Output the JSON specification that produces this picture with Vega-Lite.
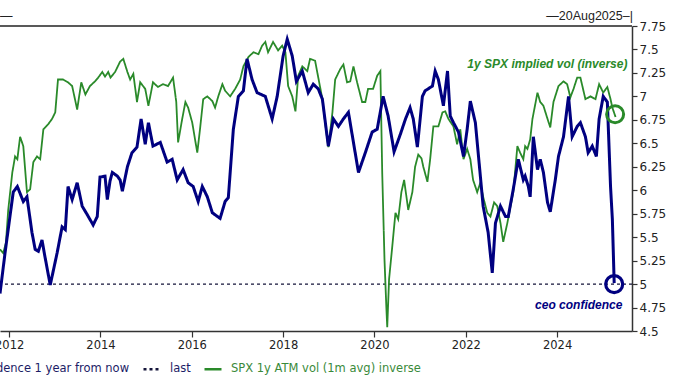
{
  "$schema": "https://vega.github.io/schema/vega-lite/v6.json",
  "width": 632,
  "height": 305,
  "autosize": {"type": "none"},
  "padding": {"left": 0, "top": 26, "right": 48, "bottom": 52},
  "background": "white",
  "config": {
    "view": {"stroke": null},
    "font": "DejaVu Sans",
    "axis": {"grid": false, "domainColor": "#333333", "domainWidth": 1.5, "tickColor": "#333333", "tickWidth": 1.2, "labelColor": "#222222", "labelFont": "DejaVu Sans", "title": null, "labelOverlap": false}
  },
  "datasets": {
    "ceo": [
      {"year": 2011.80, "value": 4.90}, {"year": 2011.91, "value": 5.33}, {"year": 2012.09, "value": 5.98}, {"year": 2012.18, "value": 6.04},
      {"year": 2012.31, "value": 5.88}, {"year": 2012.39, "value": 5.93}, {"year": 2012.50, "value": 5.55}, {"year": 2012.57, "value": 5.37},
      {"year": 2012.64, "value": 5.35}, {"year": 2012.72, "value": 5.47}, {"year": 2012.77, "value": 5.33}, {"year": 2012.90, "value": 4.99},
      {"year": 2013.05, "value": 5.33}, {"year": 2013.16, "value": 5.61}, {"year": 2013.23, "value": 5.58}, {"year": 2013.29, "value": 6.04},
      {"year": 2013.38, "value": 5.90}, {"year": 2013.49, "value": 6.08}, {"year": 2013.60, "value": 5.83}, {"year": 2013.71, "value": 5.74},
      {"year": 2013.84, "value": 5.63}, {"year": 2013.93, "value": 5.72}, {"year": 2013.99, "value": 6.14}, {"year": 2014.10, "value": 6.15},
      {"year": 2014.15, "value": 5.90}, {"year": 2014.21, "value": 6.10}, {"year": 2014.26, "value": 6.19}, {"year": 2014.37, "value": 6.15},
      {"year": 2014.43, "value": 6.11}, {"year": 2014.48, "value": 5.99}, {"year": 2014.59, "value": 6.25}, {"year": 2014.69, "value": 6.40},
      {"year": 2014.80, "value": 6.46}, {"year": 2014.89, "value": 6.76}, {"year": 2014.98, "value": 6.49}, {"year": 2015.05, "value": 6.72},
      {"year": 2015.15, "value": 6.47}, {"year": 2015.31, "value": 6.51}, {"year": 2015.46, "value": 6.30}, {"year": 2015.57, "value": 6.33},
      {"year": 2015.68, "value": 6.11}, {"year": 2015.81, "value": 6.22}, {"year": 2015.92, "value": 6.08}, {"year": 2016.03, "value": 6.04},
      {"year": 2016.14, "value": 5.88}, {"year": 2016.23, "value": 6.04}, {"year": 2016.34, "value": 5.93}, {"year": 2016.45, "value": 5.76},
      {"year": 2016.62, "value": 5.70}, {"year": 2016.73, "value": 5.88}, {"year": 2016.80, "value": 5.92}, {"year": 2016.91, "value": 6.65},
      {"year": 2017.02, "value": 7.00}, {"year": 2017.13, "value": 7.06}, {"year": 2017.21, "value": 7.40}, {"year": 2017.32, "value": 7.18},
      {"year": 2017.43, "value": 7.04}, {"year": 2017.61, "value": 7.00}, {"year": 2017.76, "value": 6.76}, {"year": 2017.87, "value": 7.00},
      {"year": 2018.00, "value": 7.43}, {"year": 2018.09, "value": 7.61}, {"year": 2018.20, "value": 7.43}, {"year": 2018.29, "value": 7.16},
      {"year": 2018.42, "value": 7.27}, {"year": 2018.55, "value": 7.04}, {"year": 2018.66, "value": 7.13}, {"year": 2018.77, "value": 7.08},
      {"year": 2018.86, "value": 6.97}, {"year": 2018.99, "value": 6.47}, {"year": 2019.10, "value": 6.76}, {"year": 2019.21, "value": 6.68},
      {"year": 2019.32, "value": 6.76}, {"year": 2019.43, "value": 6.83}, {"year": 2019.54, "value": 6.51}, {"year": 2019.65, "value": 6.19},
      {"year": 2019.80, "value": 6.40}, {"year": 2019.95, "value": 6.62}, {"year": 2020.06, "value": 6.65}, {"year": 2020.19, "value": 7.00},
      {"year": 2020.30, "value": 6.79}, {"year": 2020.43, "value": 6.41}, {"year": 2020.57, "value": 6.60}, {"year": 2020.68, "value": 6.76},
      {"year": 2020.78, "value": 6.88}, {"year": 2020.85, "value": 6.76}, {"year": 2020.94, "value": 6.46}, {"year": 2021.05, "value": 7.00},
      {"year": 2021.11, "value": 7.06}, {"year": 2021.27, "value": 7.11}, {"year": 2021.33, "value": 7.27}, {"year": 2021.40, "value": 7.18},
      {"year": 2021.51, "value": 6.90}, {"year": 2021.60, "value": 7.27}, {"year": 2021.66, "value": 6.79}, {"year": 2021.73, "value": 6.72},
      {"year": 2021.84, "value": 6.62}, {"year": 2021.95, "value": 6.36}, {"year": 2022.03, "value": 6.65}, {"year": 2022.10, "value": 6.95},
      {"year": 2022.21, "value": 6.72}, {"year": 2022.30, "value": 6.25}, {"year": 2022.38, "value": 5.83}, {"year": 2022.49, "value": 5.55},
      {"year": 2022.58, "value": 5.12}, {"year": 2022.65, "value": 5.65}, {"year": 2022.76, "value": 5.83}, {"year": 2022.87, "value": 5.72},
      {"year": 2022.93, "value": 5.72}, {"year": 2023.04, "value": 6.01}, {"year": 2023.15, "value": 6.33}, {"year": 2023.26, "value": 6.11},
      {"year": 2023.30, "value": 6.15}, {"year": 2023.37, "value": 6.04}, {"year": 2023.41, "value": 5.93}, {"year": 2023.48, "value": 6.57},
      {"year": 2023.57, "value": 6.22}, {"year": 2023.63, "value": 6.33}, {"year": 2023.70, "value": 6.19}, {"year": 2023.79, "value": 5.87},
      {"year": 2023.85, "value": 5.77}, {"year": 2023.96, "value": 6.11}, {"year": 2024.03, "value": 6.36}, {"year": 2024.14, "value": 6.57},
      {"year": 2024.25, "value": 7.00}, {"year": 2024.33, "value": 6.57}, {"year": 2024.44, "value": 6.68}, {"year": 2024.51, "value": 6.72},
      {"year": 2024.62, "value": 6.57}, {"year": 2024.68, "value": 6.40}, {"year": 2024.77, "value": 6.47}, {"year": 2024.86, "value": 6.36},
      {"year": 2024.92, "value": 6.76}, {"year": 2025.01, "value": 7.00}, {"year": 2025.10, "value": 6.94}, {"year": 2025.17, "value": 6.04},
      {"year": 2025.21, "value": 5.69}, {"year": 2025.25, "value": 5.01}
    ],
    "vol": [
      {"year": 2011.80, "value": 5.37}, {"year": 2011.87, "value": 5.33}, {"year": 2011.93, "value": 5.44}, {"year": 2011.98, "value": 5.79},
      {"year": 2012.07, "value": 6.19}, {"year": 2012.13, "value": 6.36}, {"year": 2012.18, "value": 6.33}, {"year": 2012.24, "value": 6.57},
      {"year": 2012.31, "value": 6.47}, {"year": 2012.39, "value": 5.98}, {"year": 2012.46, "value": 6.01}, {"year": 2012.53, "value": 6.30},
      {"year": 2012.61, "value": 6.36}, {"year": 2012.68, "value": 6.33}, {"year": 2012.75, "value": 6.65}, {"year": 2012.85, "value": 6.70},
      {"year": 2012.94, "value": 6.76}, {"year": 2013.01, "value": 6.83}, {"year": 2013.07, "value": 7.18}, {"year": 2013.18, "value": 7.18},
      {"year": 2013.29, "value": 7.15}, {"year": 2013.38, "value": 7.11}, {"year": 2013.49, "value": 6.86}, {"year": 2013.58, "value": 7.15},
      {"year": 2013.67, "value": 7.02}, {"year": 2013.77, "value": 7.11}, {"year": 2013.88, "value": 7.16}, {"year": 2013.95, "value": 7.20},
      {"year": 2014.04, "value": 7.26}, {"year": 2014.10, "value": 7.21}, {"year": 2014.17, "value": 7.26}, {"year": 2014.22, "value": 7.20},
      {"year": 2014.32, "value": 7.26}, {"year": 2014.43, "value": 7.37}, {"year": 2014.50, "value": 7.40}, {"year": 2014.59, "value": 7.26},
      {"year": 2014.65, "value": 7.18}, {"year": 2014.72, "value": 7.24}, {"year": 2014.80, "value": 6.94}, {"year": 2014.87, "value": 7.15},
      {"year": 2014.98, "value": 7.08}, {"year": 2015.05, "value": 6.90}, {"year": 2015.15, "value": 7.15}, {"year": 2015.26, "value": 7.10},
      {"year": 2015.37, "value": 7.13}, {"year": 2015.48, "value": 7.11}, {"year": 2015.59, "value": 7.20}, {"year": 2015.66, "value": 6.94},
      {"year": 2015.70, "value": 6.51}, {"year": 2015.79, "value": 6.76}, {"year": 2015.86, "value": 6.94}, {"year": 2015.92, "value": 6.88},
      {"year": 2016.01, "value": 6.72}, {"year": 2016.12, "value": 6.40}, {"year": 2016.18, "value": 6.65}, {"year": 2016.25, "value": 6.97},
      {"year": 2016.34, "value": 7.00}, {"year": 2016.45, "value": 6.95}, {"year": 2016.51, "value": 6.88}, {"year": 2016.58, "value": 7.00},
      {"year": 2016.67, "value": 7.13}, {"year": 2016.73, "value": 7.06}, {"year": 2016.84, "value": 7.00}, {"year": 2016.95, "value": 7.08},
      {"year": 2017.06, "value": 7.18}, {"year": 2017.13, "value": 7.32}, {"year": 2017.24, "value": 7.42}, {"year": 2017.35, "value": 7.47},
      {"year": 2017.46, "value": 7.45}, {"year": 2017.54, "value": 7.54}, {"year": 2017.61, "value": 7.58}, {"year": 2017.67, "value": 7.47},
      {"year": 2017.78, "value": 7.58}, {"year": 2017.89, "value": 7.49}, {"year": 2017.98, "value": 7.54}, {"year": 2018.05, "value": 7.47},
      {"year": 2018.11, "value": 7.11}, {"year": 2018.20, "value": 7.00}, {"year": 2018.27, "value": 6.84}, {"year": 2018.33, "value": 7.22},
      {"year": 2018.42, "value": 7.32}, {"year": 2018.53, "value": 7.27}, {"year": 2018.59, "value": 7.40}, {"year": 2018.70, "value": 7.38},
      {"year": 2018.77, "value": 7.20}, {"year": 2018.86, "value": 6.97}, {"year": 2018.92, "value": 6.72}, {"year": 2018.99, "value": 6.46},
      {"year": 2019.08, "value": 6.83}, {"year": 2019.14, "value": 7.18}, {"year": 2019.25, "value": 7.29}, {"year": 2019.32, "value": 7.34},
      {"year": 2019.40, "value": 7.15}, {"year": 2019.47, "value": 7.16}, {"year": 2019.54, "value": 7.32}, {"year": 2019.62, "value": 7.15},
      {"year": 2019.73, "value": 6.94}, {"year": 2019.80, "value": 6.94}, {"year": 2019.86, "value": 7.08}, {"year": 2019.97, "value": 7.08},
      {"year": 2020.06, "value": 7.22}, {"year": 2020.13, "value": 7.27}, {"year": 2020.17, "value": 6.19}, {"year": 2020.22, "value": 5.26},
      {"year": 2020.26, "value": 4.76}, {"year": 2020.28, "value": 4.54}, {"year": 2020.32, "value": 5.05}, {"year": 2020.39, "value": 5.40},
      {"year": 2020.46, "value": 5.76}, {"year": 2020.52, "value": 5.69}, {"year": 2020.59, "value": 5.98}, {"year": 2020.65, "value": 6.11},
      {"year": 2020.74, "value": 5.79}, {"year": 2020.83, "value": 5.98}, {"year": 2020.89, "value": 6.25}, {"year": 2020.96, "value": 6.38},
      {"year": 2021.03, "value": 6.34}, {"year": 2021.07, "value": 6.25}, {"year": 2021.16, "value": 6.09}, {"year": 2021.22, "value": 6.33},
      {"year": 2021.29, "value": 6.68}, {"year": 2021.40, "value": 6.68}, {"year": 2021.49, "value": 6.83}, {"year": 2021.55, "value": 6.84},
      {"year": 2021.62, "value": 6.76}, {"year": 2021.73, "value": 6.68}, {"year": 2021.81, "value": 6.49}, {"year": 2021.88, "value": 6.65},
      {"year": 2021.95, "value": 6.33}, {"year": 2022.03, "value": 6.44}, {"year": 2022.10, "value": 6.33}, {"year": 2022.16, "value": 6.11},
      {"year": 2022.25, "value": 5.98}, {"year": 2022.32, "value": 6.08}, {"year": 2022.38, "value": 5.93}, {"year": 2022.47, "value": 5.76},
      {"year": 2022.54, "value": 5.72}, {"year": 2022.62, "value": 5.87}, {"year": 2022.69, "value": 5.83}, {"year": 2022.76, "value": 5.65},
      {"year": 2022.82, "value": 5.45}, {"year": 2022.91, "value": 5.65}, {"year": 2022.98, "value": 5.83}, {"year": 2023.04, "value": 5.98},
      {"year": 2023.13, "value": 6.47}, {"year": 2023.19, "value": 6.40}, {"year": 2023.26, "value": 6.33}, {"year": 2023.30, "value": 6.47},
      {"year": 2023.35, "value": 6.44}, {"year": 2023.41, "value": 6.54}, {"year": 2023.46, "value": 6.76}, {"year": 2023.57, "value": 7.04},
      {"year": 2023.63, "value": 6.94}, {"year": 2023.70, "value": 6.90}, {"year": 2023.79, "value": 6.76}, {"year": 2023.85, "value": 6.67},
      {"year": 2023.92, "value": 6.94}, {"year": 2024.03, "value": 7.11}, {"year": 2024.14, "value": 7.16}, {"year": 2024.22, "value": 7.13},
      {"year": 2024.29, "value": 6.99}, {"year": 2024.36, "value": 7.08}, {"year": 2024.44, "value": 7.20}, {"year": 2024.51, "value": 7.20},
      {"year": 2024.62, "value": 6.97}, {"year": 2024.73, "value": 7.00}, {"year": 2024.84, "value": 6.97}, {"year": 2024.92, "value": 7.13},
      {"year": 2025.01, "value": 7.04}, {"year": 2025.10, "value": 7.10}, {"year": 2025.17, "value": 6.97}, {"year": 2025.21, "value": 6.88},
      {"year": 2025.28, "value": 6.78}
    ]
  },
  "encoding": {
    "y": {"field": "value", "type": "quantitative", "scale": {"domain": [4.5, 7.75], "nice": false, "zero": false},
      "axis": {"orient": "right", "values": [4.5, 4.75, 5, 5.25, 5.5, 5.75, 6, 6.25, 6.5, 6.75, 7, 7.25, 7.5, 7.75], "tickCount": 14, "labelExpr": "format(datum.value, '~g')", "tickSize": 5, "labelPadding": 2, "labelFontSize": 12, "labelOverlap": false, "labelBound": false}}
  },
  "layer": [
    {
      "data": {"values": [{"value": 7.75}]},
      "mark": {"type": "rule", "color": "#222222", "strokeWidth": 1.5},
      "encoding": {}
    },
    {
      "data": {"values": [{"series": "last", "value": 5}]},
      "mark": {"type": "rule", "strokeWidth": 1.2},
      "encoding": {
        "color": {"field": "series", "type": "nominal"},
        "strokeDash": {"field": "series", "type": "nominal"}
      }
    },
    {
      "data": {"name": "vol"},
      "transform": [{"calculate": "'SPX 1y ATM vol (1m avg) inverse'", "as": "series"}],
      "mark": {"type": "line", "strokeWidth": 1.8, "clip": true},
      "encoding": {
        "x": {"field": "year", "type": "quantitative"},
        "color": {"field": "series", "type": "nominal"},
        "strokeDash": {"field": "series", "type": "nominal"}
      }
    },
    {
      "data": {"name": "ceo"},
      "transform": [{"calculate": "'CEO confidence 1 year from now'", "as": "series"}],
      "mark": {"type": "line", "strokeWidth": 3, "clip": true},
      "encoding": {
        "x": {"field": "year", "type": "quantitative",
          "scale": {"domain": [2011.8, 2025.64], "nice": false, "zero": false},
          "axis": {"orient": "bottom", "values": [2012, 2014, 2016, 2018, 2020, 2022, 2024], "format": "d", "tickSize": 6, "labelPadding": 2, "labelFontSize": 11.5, "labelFlush": false, "labelOverlap": false, "labelBound": false}},
        "color": {"field": "series", "type": "nominal",
          "scale": {"domain": ["CEO confidence 1 year from now", "last", "SPX 1y ATM vol (1m avg) inverse"], "range": ["#000080", "#15153a", "#2a8a2a"]},
          "legend": {"orient": "none", "legendX": -88, "legendY": 333, "direction": "horizontal", "title": null, "padding": 0,
            "symbolType": "stroke", "symbolSize": 289, "symbolStrokeWidth": 2.5, "labelFontSize": 11.5, "labelFont": "DejaVu Sans",
            "labelOffset": 8, "columnPadding": 8, "labelLimit": 400,
            "encode": {"labels": {"update": {"fill": {"signal": "datum.value === 'SPX 1y ATM vol (1m avg) inverse' ? '#3a8a3a' : '#1c1c66'"}}}}}},
        "strokeDash": {"field": "series", "type": "nominal",
          "scale": {"domain": ["CEO confidence 1 year from now", "last", "SPX 1y ATM vol (1m avg) inverse"], "range": [[1, 0], [3, 3], [1, 0]]},
          "legend": null}
      }
    },
    {
      "data": {"values": [{"year": 2025.27, "value": 6.81, "who": "vol"}]},
      "mark": {"type": "point", "shape": "circle", "filled": false, "size": 290, "stroke": "#2a8a2a", "strokeWidth": 3, "opacity": 1},
      "encoding": {"x": {"field": "year", "type": "quantitative"}}
    },
    {
      "data": {"values": [{"year": 2025.25, "value": 5.0, "who": "ceo"}]},
      "mark": {"type": "point", "shape": "circle", "filled": false, "size": 290, "stroke": "#000080", "strokeWidth": 3.2, "opacity": 1},
      "encoding": {"x": {"field": "year", "type": "quantitative"}}
    },
    {
      "data": {"values": [{"year": 2025.54, "value": 7.345, "label": "1y SPX implied vol (inverse)"}]},
      "mark": {"type": "text", "align": "right", "baseline": "middle", "font": "Liberation Sans", "fontSize": 12, "fontWeight": "bold", "fontStyle": "italic", "color": "#2a8a2a"},
      "encoding": {"x": {"field": "year", "type": "quantitative"}, "text": {"field": "label"}}
    },
    {
      "data": {"values": [{"year": 2025.43, "value": 4.78, "label": "ceo confidence"}]},
      "mark": {"type": "text", "align": "right", "baseline": "middle", "font": "Liberation Sans", "fontSize": 12, "fontWeight": "bold", "fontStyle": "italic", "color": "#000080"},
      "encoding": {"x": {"field": "year", "type": "quantitative"}, "text": {"field": "label"}}
    },
    {
      "data": {"values": [{"year": 2025.66, "value": 7.86, "label": "—20Aug2025–|"}]},
      "mark": {"type": "text", "align": "right", "baseline": "middle", "font": "Liberation Sans", "fontSize": 12.5, "color": "#222222"},
      "encoding": {"x": {"field": "year", "type": "quantitative"}, "text": {"field": "label"}}
    },
    {
      "data": {"values": [{"year": 2011.8, "value": 7.86, "label": "—"}]},
      "mark": {"type": "text", "align": "left", "baseline": "middle", "font": "Liberation Sans", "fontSize": 12.5, "color": "#222222"},
      "encoding": {"x": {"field": "year", "type": "quantitative"}, "text": {"field": "label"}}
    }
  ]
}
